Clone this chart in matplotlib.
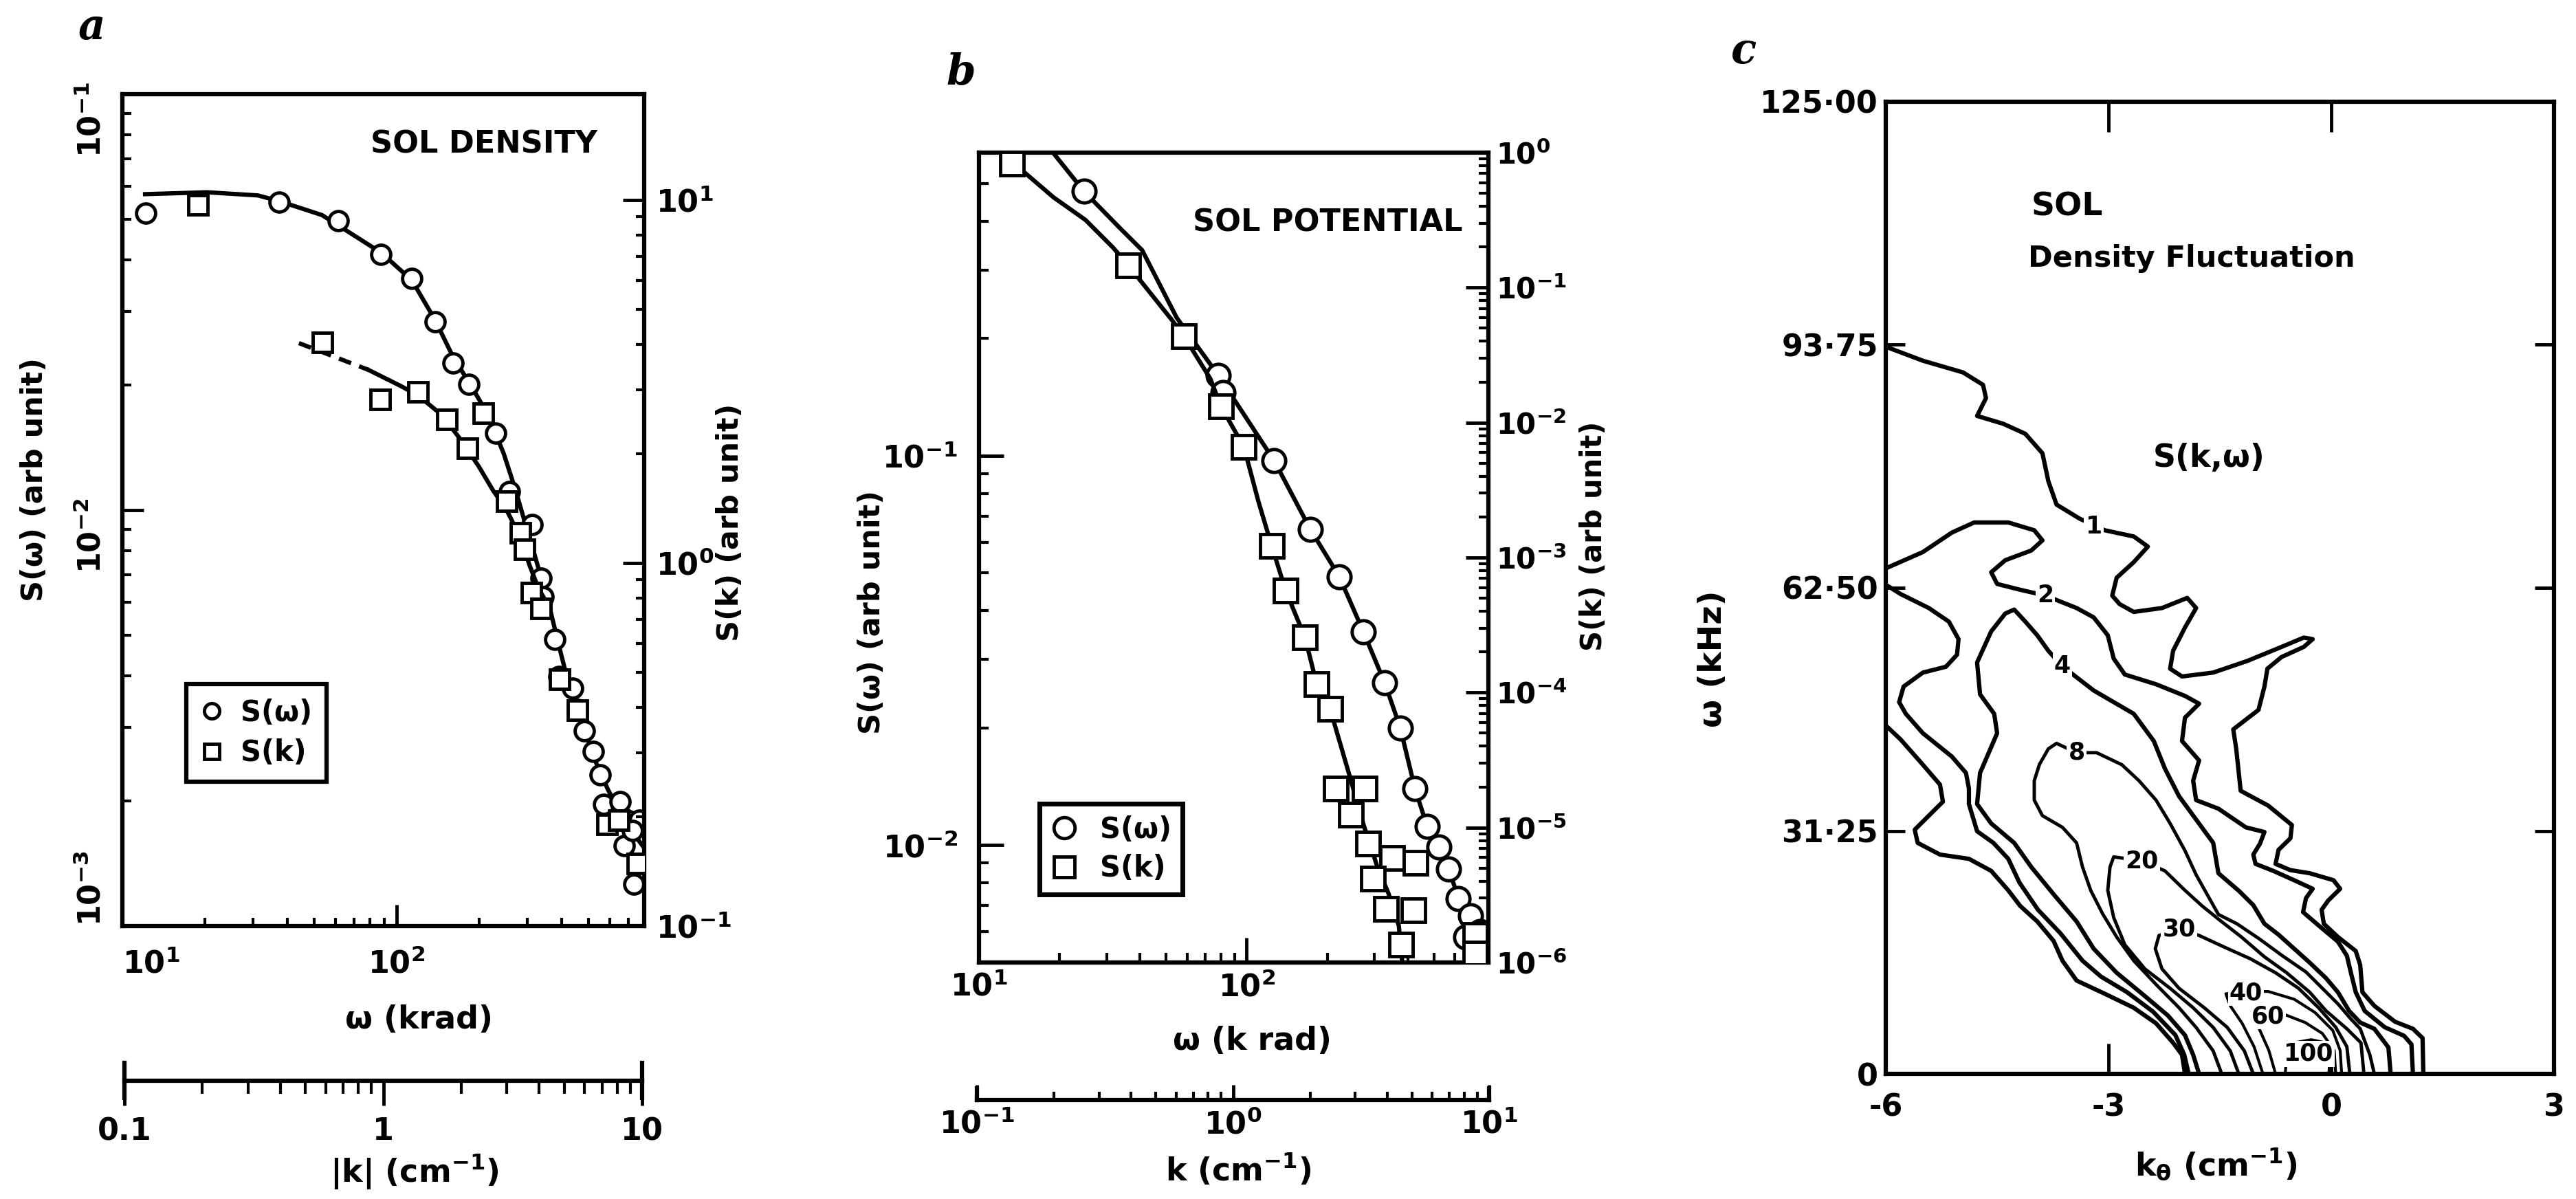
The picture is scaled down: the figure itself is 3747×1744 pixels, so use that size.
import numpy as np
import matplotlib
matplotlib.use("Agg")
import matplotlib.pyplot as plt
from matplotlib.lines import Line2D
from matplotlib.ticker import LogLocator, NullFormatter

# ---------------- panel a : SOL density ----------------
a_omega = [12.2, 37.3, 61.2, 87.7, 113.6, 138, 161, 184, 230, 258, 313, 336, 342, 377,
           392, 440, 456, 483, 521, 552, 568, 653, 598, 691, 767, 676, 725, 733]
a_s_omega = [0.0518, 0.0550, 0.0496, 0.0412, 0.0360, 0.0284, 0.0226, 0.0201, 0.0153,
             0.0111, 0.00923, 0.00686, 0.0062, 0.00489, 0.00398, 0.00373, 0.00332,
             0.00295, 0.00263, 0.00231, 0.00196, 0.00199, 0.00177, 0.0018, 0.0018,
             0.00156, 0.0017, 0.00126]
a_fit_omega = [12.1, 20.4, 31.2, 37.4, 53.5, 87.8, 113.7, 138, 161, 184.5, 215, 246, 271,
               293, 317, 342, 362, 392, 423, 466, 523, 588, 660, 741, 795]
a_fit_s_omega = [0.0575, 0.0581, 0.0571, 0.0553, 0.0512, 0.0416, 0.0357, 0.0287, 0.0233,
                 0.0202, 0.0170, 0.01367, 0.01122, 0.00941, 0.00791, 0.00664, 0.00582,
                 0.00469, 0.00385, 0.00324, 0.00255, 0.00214, 0.00184, 0.00165, 0.00155]
a_k = [0.195, 0.583, 0.973, 1.36, 1.75, 2.10, 2.42, 2.97, 3.35, 3.48, 3.70, 4.03, 4.73,
       5.56, 7.2, 8.0, 9.4]
a_s_k = [9.69, 4.06, 2.82, 2.97, 2.49, 2.07, 2.59, 1.48, 1.21, 1.09, 0.83, 0.75, 0.479,
         0.393, 0.191, 0.196, 0.149]
a_dash_k = [0.475, 0.876]
a_dash_s_k = [4.04, 3.41]
a_fit_k = [0.876, 1.164, 1.358, 1.678, 1.97, 2.32, 2.63, 2.97, 3.35, 3.63, 3.94, 4.36]
a_fit_s_k = [3.41, 3.08, 2.90, 2.56, 2.20, 1.85, 1.59, 1.40, 1.18, 0.99, 0.85, 0.75]

# ---------------- panel b : SOL potential ----------------
b_omega = [24.7, 78.3, 81.7, 126.5, 173, 222, 273, 328, 375, 425, 472, 524, 569, 618,
           686, 658, 746]
b_s_omega = [0.477, 0.161, 0.145, 0.0973, 0.0647, 0.0489, 0.0353, 0.0261, 0.0200, 0.0140,
             0.0112, 0.00988, 0.00869, 0.00731, 0.00658, 0.00581, 0.0060]
b_fit_omega = [18.9, 24.7, 33.5, 40.7, 54.8, 78.3, 126.5, 173, 222, 273, 328, 375, 425,
               472, 524, 569, 618, 686, 760]
b_fit_s_omega = [0.6, 0.477, 0.385, 0.337, 0.226, 0.161, 0.0973, 0.0647, 0.0489, 0.0353,
                 0.0261, 0.0200, 0.0140, 0.0112, 0.00988, 0.00869, 0.00731, 0.00658, 0.0058]
b_k = [0.135, 0.385, 0.638, 0.891, 1.097, 1.41, 1.60, 1.905, 2.12, 2.39, 2.52, 3.27, 2.88,
       3.37, 4.18, 5.19, 3.51, 3.97, 5.08, 4.54, 8.87, 8.87]
b_s_k = [0.829, 0.1466, 0.0436, 0.0132, 0.00659, 0.00122, 0.000569, 0.000256, 0.000115,
         7.57e-5, 1.95e-5, 1.95e-5, 1.24e-5, 7.62e-6, 5.92e-6, 5.47e-6, 4.16e-6, 2.50e-6,
         2.45e-6, 1.36e-6, 1.60e-6, 1.17e-6]
b_fit_k = [0.150, 0.196, 0.262, 0.336, 0.385, 0.571, 0.638, 0.81, 0.891, 1.097, 1.25, 1.41,
           1.60, 1.905, 2.12, 2.39, 2.86, 3.24, 3.66, 4.06, 4.45, 4.59]
b_fit_s_k = [0.72, 0.467, 0.317, 0.198, 0.1466, 0.0578, 0.0436, 0.0211, 0.0132, 0.00659,
             0.00261, 0.00122, 0.000569, 0.000256, 0.000115, 7.57e-5, 2.37e-5, 1.04e-5,
             5.15e-6, 3.22e-6, 1.87e-6, 1.0e-6]

# ---------------- panel c : S(k, omega) contours (k_theta, omega) ----------------
c_level_1_upper = np.array([
    (-6.0, 93.5), (-5.50, 91.7), (-4.96, 90.2), (-4.69, 88.6), (-4.65, 86.9), (-4.77, 84.6),
    (-4.42, 83.6), (-4.12, 82.3), (-3.89, 79.8), (-3.81, 76.2), (-3.70, 73.2), (-3.39, 71.4),
    (-3.05, 69.9), (-2.66, 69.1), (-2.47, 67.8), (-2.66, 65.8), (-2.89, 63.8), (-2.95, 61.5),
    (-2.85, 60.4), (-2.66, 59.4), (-2.28, 59.9), (-1.94, 61.2), (-1.82, 59.9), (-1.97, 57.4),
    (-2.13, 54.4), (-2.17, 52.1), (-2.01, 51.1), (-1.59, 51.6), (-1.13, 53.1), (-0.67, 54.9),
    (-0.37, 56.1), (-0.25, 55.9), (-0.37, 54.9), (-0.67, 53.6), (-0.86, 52.1), (-0.90, 49.8),
    (-0.98, 46.8), (-1.32, 44.3), (-1.28, 41.8), (-1.22, 36.4), (-0.85, 34.5), (-0.53, 32.0),
    (-0.55, 30.3), (-0.71, 28.8), (-0.75, 27.0), (-0.55, 26.2), (-0.29, 25.8), (0.03, 24.9),
    (0.12, 23.8), (-0.04, 22.3), (-0.13, 21.1), (-0.10, 19.3), (0.09, 17.6), (0.33, 15.8),
    (0.39, 14.0), (0.42, 10.5), (0.58, 8.75), (0.86, 6.7), (1.10, 5.8), (1.23, 4.6), (1.24, 0.0)])
c_level_1_lower = np.array([
    (-6.0, 44.8), (-5.80, 43.0), (-5.50, 39.75), (-5.27, 37.2), (-5.23, 35.0), (-5.42, 33.2),
    (-5.61, 31.4), (-5.57, 29.7), (-5.27, 28.2), (-4.88, 27.65), (-4.58, 26.1), (-4.35, 23.6),
    (-4.19, 21.6), (-3.96, 19.6), (-3.74, 17.1), (-3.62, 14.55), (-3.43, 12.0), (-3.05, 10.3),
    (-2.66, 8.5), (-2.36, 6.5), (-2.13, 4.0), (-2.01, 2.45), (-1.97, 0.0)])
c_level_2_upper = np.array([
    (-6.0, 65.0), (-5.50, 67.1), (-5.11, 69.6), (-4.81, 70.9), (-4.35, 70.9), (-4.00, 69.9),
    (-3.89, 68.6), (-4.04, 67.3), (-4.39, 66.05), (-4.58, 64.5), (-4.50, 63.0), (-4.19, 62.25),
    (-3.85, 61.5), (-3.43, 59.9), (-3.20, 58.7), (-3.01, 56.4), (-2.93, 53.4), (-2.78, 51.35),
    (-2.36, 50.1), (-1.97, 48.6), (-1.78, 47.6), (-1.97, 45.8), (-2.01, 42.8), (-1.78, 40.3),
    (-1.86, 37.7), (-1.82, 35.2), (-1.52, 34.1), (-1.15, 31.7), (-0.90, 31.1), (-0.96, 29.6),
    (-1.05, 28.2), (-1.02, 27.0), (-0.78, 26.1), (-0.50, 24.9), (-0.25, 23.8), (-0.34, 22.6),
    (-0.38, 20.8), (-0.16, 19.0), (0.09, 17.0), (0.21, 15.2), (0.27, 12.8), (0.33, 10.5),
    (0.45, 8.1), (0.72, 6.0), (0.98, 4.9), (1.08, 3.8), (1.10, 0.0)])
c_level_2_lower = np.array([
    (-6.0, 62.9), (-5.80, 61.7), (-5.42, 59.9), (-5.15, 58.15), (-5.02, 55.9), (-5.04, 53.9),
    (-5.19, 52.35), (-5.50, 51.6), (-5.76, 49.8), (-5.82, 47.8), (-5.73, 46.3), (-5.50, 43.8),
    (-5.11, 40.8), (-4.92, 38.7), (-4.88, 36.7), (-4.88, 34.7), (-4.77, 31.2), (-4.55, 29.7),
    (-4.35, 27.65), (-4.20, 24.6), (-3.95, 21.1), (-3.65, 18.1), (-3.35, 14.55), (-3.10, 12.5),
    (-2.75, 10.5), (-2.40, 8.0), (-2.10, 5.0), (-1.98, 2.45), (-1.92, 0.0)])
c_level_4 = np.array([
    (-1.78, 0.0), (-1.86, 2.45), (-1.97, 4.97), (-2.20, 7.5), (-2.51, 10.0), (-2.89, 13.0),
    (-3.20, 16.1), (-3.43, 19.6), (-3.74, 23.1), (-4.04, 26.6), (-4.27, 29.7), (-4.58, 32.2),
    (-4.77, 34.7), (-4.73, 38.7), (-4.50, 43.8), (-4.54, 46.3), (-4.73, 48.8), (-4.77, 52.9),
    (-4.58, 56.9), (-4.39, 59.2), (-4.27, 59.7), (-4.12, 58.15), (-3.96, 56.4), (-3.81, 54.4),
    (-3.62, 52.4), (-3.20, 49.3), (-2.66, 46.3), (-2.39, 42.8), (-2.24, 39.25), (-2.05, 35.7),
    (-1.82, 32.7), (-1.59, 29.7), (-1.52, 25.8), (-1.24, 23.5), (-1.05, 21.7), (-0.90, 19.3),
    (-0.71, 17.9), (-0.50, 16.1), (-0.29, 14.3), (-0.07, 12.3), (0.09, 10.5), (0.24, 8.1),
    (0.39, 6.6), (0.58, 5.8), (0.77, 3.4), (0.80, 0.0)])
c_level_8 = np.array([
    (-1.475, 0.0), (-1.59, 2.95), (-1.82, 5.97), (-2.05, 8.5), (-2.36, 11.5), (-2.66, 14.55),
    (-2.89, 17.6), (-3.08, 20.6), (-3.24, 23.6), (-3.35, 26.6), (-3.43, 29.7), (-3.62, 31.7),
    (-3.89, 33.2), (-4.00, 35.2), (-4.00, 37.7), (-3.93, 39.8), (-3.81, 41.8), (-3.70, 42.5),
    (-3.43, 41.3), (-3.16, 41.3), (-2.82, 39.75), (-2.59, 37.7), (-2.36, 35.2), (-2.17, 32.2),
    (-1.97, 28.7), (-1.82, 25.6), (-1.52, 20.5), (-1.27, 19.3), (-0.96, 17.3), (-0.66, 15.2),
    (-0.34, 13.1), (-0.13, 11.1), (0.09, 9.0), (0.27, 7.0), (0.39, 5.8), (0.52, 2.45),
    (0.58, 0.0)])
c_level_20 = np.array([
    (-1.245, 0.0), (-1.36, 2.95), (-1.59, 5.97), (-1.86, 8.5), (-2.17, 11.0), (-2.51, 13.5),
    (-2.78, 16.6), (-2.93, 20.1), (-3.01, 23.6), (-2.98, 26.6), (-2.93, 27.9), (-2.55, 27.4),
    (-2.24, 26.1), (-1.97, 23.6), (-1.74, 21.6), (-1.48, 19.6), (-1.21, 17.6), (-0.90, 15.05),
    (-0.60, 13.0), (-0.29, 10.5), (-0.07, 8.1), (0.21, 5.8), (0.40, 4.0), (0.44, 0.0)])
c_level_30 = np.array([
    (-1.05, 0.0), (-1.17, 2.95), (-1.40, 5.97), (-1.71, 8.5), (-2.05, 11.0), (-2.28, 13.5),
    (-2.37, 16.1), (-2.32, 17.8), (-2.05, 18.6), (-1.78, 17.8), (-1.44, 16.3), (-1.09, 14.8),
    (-0.75, 13.0), (-0.44, 11.0), (-0.17, 8.5), (0.06, 6.0), (0.21, 3.5), (0.25, 0.0)])
c_level_40 = np.array([
    (-0.92, 0.0), (-1.04, 3.5), (-1.20, 6.5), (-1.36, 8.75), (-1.42, 10.3), (-1.15, 10.6),
    (-0.85, 10.6), (-0.50, 9.6), (-0.22, 7.9), (0.02, 5.6), (0.12, 3.0), (0.14, 0.0)])
c_level_60 = np.array([
    (-0.75, 0.0), (-0.84, 3.0), (-0.98, 6.0), (-1.00, 7.4), (-0.85, 7.7), (-0.62, 7.6),
    (-0.35, 6.6), (-0.12, 5.2), (0.04, 3.0), (0.06, 0.0)])
c_level_100 = np.array([
    (-0.62, 0.0), (-0.60, 2.5), (-0.50, 4.0), (-0.27, 4.4), (-0.08, 4.0), (-0.02, 2.5),
    (-0.03, 0.0)])
c_label_text = ['1', '2', '4', '8', '20', '30', '40', '60', '100']
c_label_k = [-3.20, -3.85, -3.62, -3.43, -2.55, -2.05, -1.15, -0.85, -0.31]
c_label_w = [70.4, 61.5, 52.4, 41.3, 27.4, 18.6, 10.4, 7.4, 2.6]

# ---------------------------------------------------------------
plt.rcParams['font.family'] = 'DejaVu Sans'
plt.rcParams['font.weight'] = 'bold'
plt.rcParams['mathtext.fontset'] = 'custom'
plt.rcParams['mathtext.rm'] = 'DejaVu Sans:bold'
plt.rcParams['mathtext.it'] = 'DejaVu Sans:italic:bold'
plt.rcParams['mathtext.bf'] = 'DejaVu Sans:bold'
plt.rcParams['mathtext.default'] = 'rm'
plt.rcParams['axes.linewidth'] = 4.5

W, H = 3747, 1744
fig = plt.figure(figsize=(W / 100, H / 100), dpi=100, facecolor='white')


def box(x0, y0, x1, y1):
    return [x0 / W, 1 - y1 / H, (x1 - x0) / W, (y1 - y0) / H]


def put(x, y, s, **kw):
    fig.text(x / W, 1 - y / H, s, **kw)


def log_minor(axis):
    axis.set_minor_locator(LogLocator(base=10, subs=np.arange(2, 10), numticks=50))
    axis.set_minor_formatter(NullFormatter())


TS = 32
mk_o = dict(marker='o', ls='none', mfc='white', mec='black')
mk_s = dict(marker='s', ls='none', mfc='white', mec='black')

# ======================= panel a =======================
ax = fig.add_axes(box(178, 137, 937, 1347))
ax.set_xscale('log')
ax.set_yscale('log')
ax.set_xlim(10, 800)
ax.set_ylim(1e-3, 1e-1)
ax.plot(a_fit_omega, a_fit_s_omega, color='black', lw=4.5)
ax.plot(a_omega, a_s_omega, ms=20, mew=3.5, **mk_o)
ax.set_xticks([10, 100], [r'$10^{1}$', r'$10^{2}$'])
ax.set_yticks([1e-3, 1e-2, 1e-1], [r'$10^{-3}$', r'$10^{-2}$', r'$10^{-1}$'])
log_minor(ax.xaxis)
log_minor(ax.yaxis)
ax.tick_params(which='both', direction='in', top=False, right=False, labelsize=TS)
ax.tick_params(which='major', length=22, width=3.5)
ax.tick_params(which='minor', length=9, width=3)
ax.tick_params(axis='y', labelrotation=90, pad=16)
ax.tick_params(axis='x', pad=24)
ax.get_xticklabels()[0].set_horizontalalignment('left')
ax.get_yticklabels()[0].set_verticalalignment('bottom')

axk = fig.add_axes(box(178, 137, 937, 1347), frameon=False, label='a_k')
axk.set_xscale('log')
axk.set_yscale('log')
axk.set_xlim(0.1, 10)
axk.set_ylim(0.1, 19.6)
axk.plot(a_dash_k, a_dash_s_k, color='black', lw=4.5, ls=(0, (3, 2)))
axk.plot(a_fit_k, a_fit_s_k, color='black', lw=4.5)
axk.plot(a_k, a_s_k, ms=20, mew=3.5, **mk_s)
axk.xaxis.set_visible(False)
axk.yaxis.tick_right()
axk.set_yticks([0.1, 1, 10], [r'$10^{-1}$', r'$10^{0}$', r'$10^{1}$'])
log_minor(axk.yaxis)
axk.tick_params(axis='y', which='both', direction='in', labelsize=TS, pad=12)
axk.tick_params(axis='y', which='major', length=22, width=3.5)
axk.tick_params(axis='y', which='minor', length=9, width=3)
leg = axk.legend(handles=[Line2D([], [], ms=16, mew=3.5, **mk_o),
                          Line2D([], [], ms=16, mew=3.5, **mk_s)],
                 labels=['S(\u03c9)', 'S(k)'], loc='upper left',
                 bbox_to_anchor=(0.1225, 0.291), borderaxespad=0, fancybox=False,
                 edgecolor='black', framealpha=1, fontsize=30, handlelength=0.8,
                 handletextpad=0.6, borderpad=0.5, labelspacing=0.4)
leg.get_frame().set_linewidth(4.5)

axq = fig.add_axes(box(181, 1546, 934, 1597))
axq.set_xscale('log')
axq.set_xlim(0.1, 10)
axq.set_yticks([])
axq.patch.set_visible(False)
axq.spines['top'].set_visible(False)
axq.spines['bottom'].set_position(('axes', 0.5))
axq.set_xticks([0.1, 1, 10], ['0.1', '1', '10'])
log_minor(axq.xaxis)
axq.tick_params(axis='x', which='both', direction='out', labelsize=TS, pad=12)
axq.tick_params(axis='x', which='major', length=26, width=3.5)
axq.tick_params(axis='x', which='minor', length=14, width=3)

put(133, 40, 'a', fontsize=44, family='DejaVu Serif', style='italic', ha='center', va='center')
put(539, 210, 'SOL DENSITY', fontsize=32, ha='left', va='center')
put(50, 697, 'S(\u03c9) (arb unit)', fontsize=31, rotation=90, ha='center', va='center')
put(1062, 760, 'S(k) (arb unit)', fontsize=31, rotation=90, ha='center', va='center')
put(609, 1483, '\u03c9 (krad)', fontsize=33, ha='center', va='center')
put(603, 1705, r'|k| (cm$^{-1}$)', fontsize=33, ha='center', va='center')

# ======================= panel b =======================
bx = fig.add_axes(box(1424, 222, 2165, 1400))
bx.set_xscale('log')
bx.set_yscale('log')
bx.set_xlim(10, 800)
bx.set_ylim(0.005, 0.6)
bx.plot(b_fit_omega, b_fit_s_omega, color='black', lw=4.5)
bx.plot(b_omega, b_s_omega, ms=24, mew=3.5, **mk_o)
bx.set_xticks([10, 100], [r'$10^{1}$', r'$10^{2}$'])
bx.set_yticks([1e-2, 1e-1], [r'$10^{-2}$', r'$10^{-1}$'])
log_minor(bx.xaxis)
log_minor(bx.yaxis)
bx.tick_params(which='both', direction='in', top=False, right=False, labelsize=TS)
bx.tick_params(which='major', length=26, width=3.5)
bx.tick_params(which='minor', length=10, width=3)
bx.tick_params(axis='y', pad=22)
bx.tick_params(axis='x', pad=10)

bk = fig.add_axes(box(1424, 222, 2165, 1400), frameon=False, label='b_k')
bk.set_xscale('log')
bk.set_yscale('log')
bk.set_xlim(0.1, 10)
bk.set_ylim(1e-6, 1)
bk.plot(b_fit_k, b_fit_s_k, color='black', lw=4.5)
bk.plot(b_k, b_s_k, ms=24, mew=3.5, **mk_s)
bk.xaxis.set_visible(False)
bk.yaxis.tick_right()
bk.set_yticks([1e-6, 1e-5, 1e-4, 1e-3, 1e-2, 1e-1, 1],
              [r'$10^{-6}$', r'$10^{-5}$', r'$10^{-4}$', r'$10^{-3}$', r'$10^{-2}$',
               r'$10^{-1}$', r'$10^{0}$'])
log_minor(bk.yaxis)
bk.tick_params(axis='y', which='both', direction='in', labelsize=30, pad=8)
bk.tick_params(axis='y', which='major', length=24, width=3.5)
bk.tick_params(axis='y', which='minor', length=10, width=3)
leg = bk.legend(handles=[Line2D([], [], ms=22, mew=3.5, **mk_o),
                         Line2D([], [], ms=22, mew=3.5, **mk_s)],
                labels=['S(\u03c9)', 'S(k)'], loc='upper left',
                bbox_to_anchor=(0.119, 0.196), borderaxespad=0, fancybox=False,
                edgecolor='black', framealpha=1, fontsize=30, handlelength=0.9,
                handletextpad=0.8, borderpad=0.4, labelspacing=0.35)
leg.get_frame().set_linewidth(5)

bq = fig.add_axes(box(1421, 1583, 2166, 1600))
bq.set_xscale('log')
bq.set_xlim(0.1, 10)
bq.set_yticks([])
bq.patch.set_visible(False)
bq.spines['top'].set_visible(False)
bq.set_xticks([0.1, 1, 10], [r'$10^{-1}$', r'$10^{0}$', r'$10^{1}$'])
log_minor(bq.xaxis)
bq.tick_params(axis='x', which='both', direction='in', labelsize=TS, pad=10)
bq.tick_params(axis='x', which='major', length=16, width=3.5)
bq.tick_params(axis='x', which='minor', length=9, width=3)

put(1398, 106, 'b', fontsize=44, family='DejaVu Serif', style='italic', ha='center', va='center')
put(1735, 324, 'SOL POTENTIAL', fontsize=32, ha='left', va='center')
put(1268, 890, 'S(\u03c9) (arb unit)', fontsize=31, rotation=90, ha='center', va='center')
put(2318, 780, 'S(k) (arb unit)', fontsize=30, rotation=90, ha='center', va='center')
put(1822, 1514, '\u03c9 (k rad)', fontsize=33, ha='center', va='center')
put(1801, 1702, r'k (cm$^{-1}$)', fontsize=33, ha='center', va='center')

# ======================= panel c =======================
cx = fig.add_axes(box(2743, 148, 3715, 1562))
cx.set_xlim(-6, 3)
cx.set_ylim(0, 125)
thick = [c_level_1_upper, c_level_1_lower, c_level_2_upper, c_level_2_lower, c_level_4]
thin = [c_level_8, c_level_20, c_level_30]
loops = [c_level_40, c_level_60, c_level_100]
for line in thick:
    cx.plot(line[:, 0], line[:, 1], color='black', lw=4.5, solid_joinstyle='round')
for line in thin:
    cx.plot(line[:, 0], line[:, 1], color='black', lw=3.5, solid_joinstyle='round')
for line in loops:
    cx.plot(line[:, 0], line[:, 1], color='black', lw=3.0, solid_joinstyle='round')
for t, kk, ww in zip(c_label_text, c_label_k, c_label_w):
    cx.text(kk, ww, t, fontsize=25, ha='center', va='center',
            bbox=dict(facecolor='white', edgecolor='none', pad=1.5))
cx.set_xticks([-6, -3, 0, 3], ['-6', '-3', '0', '3'])
cx.set_yticks([0, 31.25, 62.5, 93.75, 125], ['0', '31\u00b725', '62\u00b750', '93\u00b775', '125\u00b700'])
cx.tick_params(which='both', direction='in', top=True, right=True, labelsize=TS, width=3.5)
cx.tick_params(axis='x', length=32, pad=20)
cx.tick_params(axis='y', length=20, pad=8)

put(2537, 75, 'c', fontsize=44, family='DejaVu Serif', style='italic', ha='center', va='center')
put(2955, 301, 'SOL', fontsize=34, ha='left', va='center')
put(2950, 376, 'Density Fluctuation', fontsize=31, ha='left', va='center')
put(3132, 666, 'S(k,\u03c9)', fontsize=33, ha='left', va='center')
put(2491, 958, '\u03c9 (kHz)', fontsize=34, rotation=90, ha='center', va='center')
put(3223, 1694, r'k$_{\theta}$ (cm$^{-1}$)', fontsize=33, ha='center', va='center')

fig.savefig('out.png', dpi=100, facecolor='white')
